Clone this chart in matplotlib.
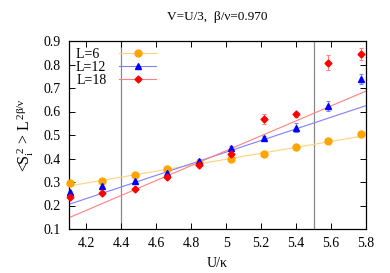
import numpy as np
import matplotlib.pyplot as plt
from matplotlib.lines import Line2D

plt.rcParams['font.family'] = ['Liberation Serif', 'DejaVu Serif']
plt.rcParams['mathtext.fontset'] = 'custom'
plt.rcParams['mathtext.rm'] = 'Liberation Serif'
plt.rcParams['mathtext.it'] = 'Liberation Serif'
plt.rcParams['font.size'] = 10

u = [4.105, 4.29, 4.475, 4.66, 4.845, 5.03, 5.215, 5.4, 5.585, 5.77]

s6 = [0.294, 0.306, 0.328, 0.354, 0.380, 0.397, 0.419, 0.449, 0.473, 0.504]
e6 = [0.004, 0.004, 0.004, 0.004, 0.004, 0.004, 0.004, 0.005, 0.005, 0.006]
s12 = [0.256, 0.284, 0.304, 0.340, 0.389, 0.446, 0.487, 0.531, 0.623, 0.737]
e12 = [0.005, 0.006, 0.006, 0.006, 0.007, 0.008, 0.010, 0.018, 0.022, 0.022]
s18 = [0.235, 0.252, 0.269, 0.321, 0.374, 0.419, 0.568, 0.588, 0.808, 0.845]
e18 = [0.006, 0.006, 0.006, 0.008, 0.008, 0.010, 0.022, 0.012, 0.032, 0.025]

# linear fits (end points at U=4.1 and U=5.8)
fit_u = [4.1, 5.8]
fit6 = [0.283, 0.498]
fit12 = [0.205, 0.625]
fit18 = [0.148, 0.687]

# two trailing spaces = one digit in Liberation Serif, keeps the key aligned
labels = ['L=6  ', 'L=12', 'L=18']
series = [
    (s6, e6, fit6, '#ffa500', '#ffd27f', 'o', 5),
    (s12, e12, fit12, '#0000ff', '#8080ff', '^', 5),
    (s18, e18, fit18, '#ff0000', '#ff8080', 'D', 3.5),
]

fig = plt.figure(figsize=(3.9, 2.73), dpi=100)
ax = fig.add_axes([69/390, 1-229/273, (366-69)/390, (229-41)/273])

ax.axvline(4.4, color='#888888', lw=0.9, zorder=1)
ax.axvline(5.5, color='#888888', lw=0.9, zorder=1)

handles = []
for s, e, fit, c, lc, m, ms in series:
    ax.plot(fit_u, fit, color=lc, lw=0.8, zorder=2)
    ax.errorbar(u, s, yerr=e, fmt=m, color=c, ms=ms, ecolor=lc,
                elinewidth=0.8, capsize=1.5, capthick=0.8, zorder=3,
                clip_on=False)
    handles.append(Line2D([], [], color=lc, lw=0.8, marker=m, ms=ms,
                          markerfacecolor=c, markeredgecolor=c))

ax.legend(handles, labels, loc='upper left',
          markerfirst=False, frameon=False, handlelength=2.7,
          handletextpad=0.9, borderaxespad=0.3, labelspacing=0.0,
          borderpad=0.2, fontsize=10)

ax.set_xlim(4.1, 5.8)
ax.set_ylim(0.1, 0.9)
ax.set_xticks(np.arange(4.2, 5.81, 0.2))
ax.set_xticklabels(['4.2', '4.4', '4.6', '4.8', '5', '5.2', '5.4', '5.6', '5.8'])
ax.set_yticks(np.arange(0.1, 0.91, 0.1))
ax.set_yticklabels(['0.1', '0.2', '0.3', '0.4', '0.5', '0.6', '0.7', '0.8', '0.9'])
ax.tick_params(direction='in', top=True, right=True, length=4, width=0.7,
               labelsize=10, pad=6)
for sp in ax.spines.values():
    sp.set_linewidth(0.9)

ax.set_xlabel('U/κ', fontsize=10, labelpad=5)
ax.set_ylabel(r'<S$_{\rm i}^{\,2}$ > L$^{\,2\beta/\nu}$', fontsize=11.5, labelpad=5)
ax.set_title('V=U/3,  β/ν=0.970', fontsize=9.5, pad=15)

fig.savefig('out.png', dpi=100)
